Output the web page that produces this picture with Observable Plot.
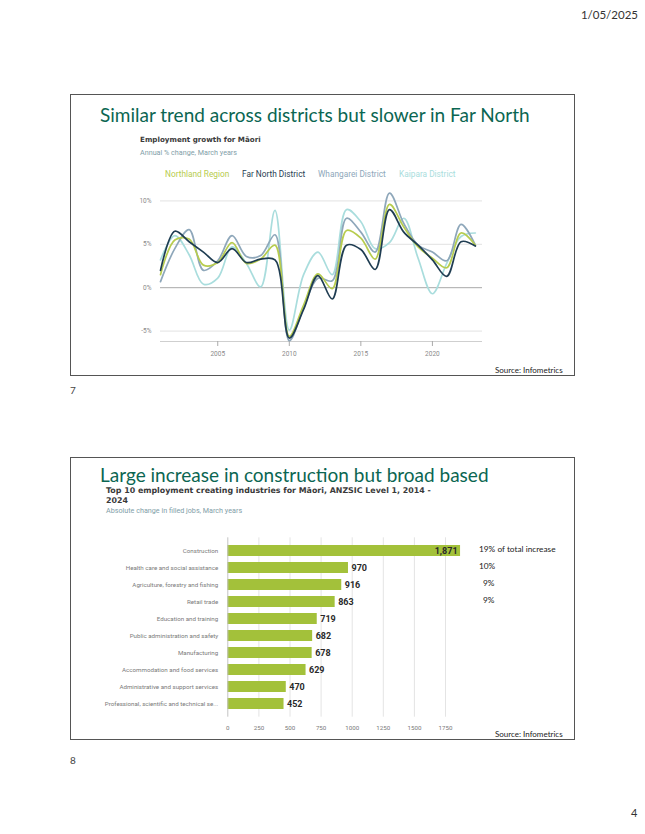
<!DOCTYPE html>
<html><head><meta charset="utf-8">
<script src="https://cdn.jsdelivr.net/npm/d3@7"></script>
<script src="https://cdn.jsdelivr.net/npm/@observablehq/plot@0.6"></script>
<style>
body{margin:0;background:#fff;}
#page{position:relative;width:645px;height:834px;overflow:hidden;background:#fff;font-family:Lato,"Noto Sans",sans-serif;}
.abs{position:absolute;white-space:nowrap;}
.frame{position:absolute;border:1px solid #555;box-sizing:border-box;}
.stitle{position:absolute;color:#0b6652;font-family:Lato,sans-serif;font-size:19px;white-space:nowrap;line-height:1;}
.ctitle{position:absolute;font-family:"DejaVu Sans",sans-serif;font-weight:bold;font-size:7.3px;color:#3a3a3a;white-space:nowrap;line-height:9.4px;}
.csub{position:absolute;font-family:Roboto,sans-serif;font-size:7.2px;color:#7f9ea8;white-space:nowrap;line-height:1;}
.src{position:absolute;font-family:Lato,sans-serif;font-size:8px;color:#222;white-space:nowrap;line-height:1;}
.plotbox{position:absolute;}
.plotbox svg{overflow:visible;}
</style></head>
<body><div id="page">
<div class="abs" style="right:7px;top:8px;font-size:11.5px;color:#333;">1/05/2025</div>

<div class="frame" style="left:70px;top:94px;width:505px;height:282px;"></div>
<div class="stitle" style="left:100px;top:104.5px;">Similar trend across districts but slower in Far North</div>
<div class="ctitle" style="left:140px;top:134.7px;font-size:7.15px;">Employment growth for Māori</div>
<div class="csub" style="left:140px;top:148.5px;">Annual % change, March years</div>
<div id="legend" class="abs" style="left:0;top:0;"></div>
<div id="line" class="plotbox" style="left:100px;top:185px;"></div>
<div class="src" style="left:495px;top:366px;">Source: Infometrics</div>
<div class="abs" style="left:70px;top:384px;font-size:10px;color:#444;">7</div>

<div class="frame" style="left:70px;top:457px;width:505px;height:283px;"></div>
<div class="stitle" style="left:100px;top:465.3px;">Large increase in construction but broad based</div>
<div class="ctitle" style="left:106px;top:486.3px;font-size:7.9px;">Top 10 employment creating industries for Māori, ANZSIC Level 1, 2014 -<br>2024</div>
<div class="csub" style="left:106px;top:506.5px;">Absolute change in filled jobs, March years</div>
<div id="bar" class="plotbox" style="left:100px;top:530px;"></div>
<div id="notes"></div>
<div class="src" style="left:495px;top:730px;">Source: Infometrics</div>
<div class="abs" style="left:70px;top:754px;font-size:10px;color:#444;">8</div>
<div class="abs" style="left:631px;top:806px;font-size:11px;color:#333;">4</div>
</div>
<script>
// ---- Line chart data ----
const years = [2001,2002,2003,2004,2005,2006,2007,2008,2009,2010,2011,2012,2013,2014,2015,2016,2017,2018,2019,2020,2021,2022,2023];
const seriesNames = ["Northland Region","Far North District","Whangarei District","Kaipara District"];
const seriesColors = ["#b7cc4e","#1f3d52","#8ea7ba","#a9dddd"];
const northland = [1.5,5.5,5.6,2.6,2.9,5.2,2.8,3.3,4.9,-5.6,-2.0,1.6,-0.1,6.6,5.7,3.3,9.6,7.0,4.7,3.4,2.3,6.3,4.9];
const farNorth  = [2.0,6.5,5.3,4.1,2.9,4.5,2.9,3.3,3.2,-5.8,-2.5,1.4,-1.3,4.9,4.4,2.1,9.0,6.4,4.9,3.2,1.3,5.3,4.8];
const whangarei = [0.7,4.5,6.7,2.0,3.1,6.0,3.6,3.7,6.1,-6.1,-2.3,1.1,0.8,8.0,6.4,4.1,10.9,7.4,4.9,4.1,3.1,7.3,4.9];
const kaipara   = [3.2,6.0,3.8,0.4,1.1,4.7,2.8,0.1,8.9,-4.9,1.5,4.1,1.5,9.0,7.6,4.5,5.2,8.0,3.4,-0.7,2.8,5.9,6.3];
const yTicks = [-5,0,5,10];
const xTicks = [2005,2010,2015,2020];

// ---- Bar chart data ----
const industries = ["Construction","Health care and social assistance","Agriculture, forestry and fishing","Retail trade","Education and training","Public administration and safety","Manufacturing","Accommodation and food services","Administrative and support services","Professional, scientific and technical se..."];
const jobChange = [1871,970,916,863,719,682,678,629,470,452];
const barTicks = [0,250,500,750,1000,1250,1500,1750];
const shareNotes = ["19% of total increase","10%","9%","9%"];

// legend
const legendX = [165,242,318,399];
document.getElementById("legend").innerHTML = seriesNames.map((n,i)=>
  `<div class="abs" style="left:${legendX[i]}px;top:170px;font-family:Roboto,sans-serif;font-size:8.3px;color:${seriesColors[i]};line-height:1;">${n}</div>`).join("");

// line chart
const seriesVals = [northland, farNorth, whangarei, kaipara];
const drawOrder = [3,2,0,1];
const lineData = [];
for (const si of drawOrder) years.forEach((y,i)=>lineData.push({year:y, value:seriesVals[si][i], series:seriesNames[si]}));

const line = Plot.plot({
  width:400, height:180, marginLeft:60, marginRight:18, marginTop:5, marginBottom:24,
  style:{fontFamily:"Roboto,sans-serif", fontSize:"6.5px", color:"#8a8a8a", background:"transparent"},
  x:{domain:[2001,2023.5], label:null},
  y:{domain:[-6.2,11.2], label:null},
  color:{domain:seriesNames, range:seriesColors},
  marks:[
    Plot.ruleY(yTicks.filter(d=>d!==0), {stroke:"#e2e2e2", strokeWidth:1}),
    Plot.ruleY([0], {stroke:"#a8a8a8", strokeWidth:1}),
    Plot.ruleY([-6.2], {stroke:"#cfcfcf", strokeWidth:1}),
    Plot.axisY({ticks:yTicks, tickFormat:d=>d+"%", tickSize:0, tickPadding:9, label:null}),
    Plot.axisX({ticks:xTicks, tickFormat:d=>String(d), tickSize:5, tickPadding:5, stroke:"#aaa", label:null}),
    Plot.line(lineData, {x:"year", y:"value", z:"series", stroke:"series", curve:"catmull-rom", strokeWidth:1.7})
  ]
});
document.getElementById("line").appendChild(line);

// bar chart
const barData = industries.map((d,i)=>({industry:d, value:jobChange[i]}));
const fmt = d3.format(",");
const bar = Plot.plot({
  width:380, height:207, marginLeft:127.3, marginRight:3.9, marginTop:7.3, marginBottom:20.3,
  style:{fontFamily:"Roboto,sans-serif", fontSize:"6.2px", color:"#7a7a7a", background:"transparent"},
  x:{domain:[0,2000], label:null},
  y:{domain:industries, padding:0.35, label:null},
  marks:[
    Plot.ruleX(barTicks.filter(d=>d>0), {stroke:"#e4e4e4", strokeWidth:1}),
    Plot.barX(barData, {x:"value", y:"industry", fill:"#a3c13a"}),
    Plot.ruleX([0], {stroke:"#c4c4c4", strokeWidth:1}),
    Plot.axisX({ticks:barTicks, tickFormat:d=>String(d), tickSize:0, tickPadding:8, label:null}),
    Plot.axisY({tickSize:0, tickPadding:9.6, label:null}),
    Plot.text(barData.filter(d=>d.value>=1500), {x:"value", y:"industry", text:d=>fmt(d.value), textAnchor:"end", dx:-3, fill:"#2a2a2a", fontWeight:"bold", fontSize:9}),
    Plot.text(barData.filter(d=>d.value<1500), {x:"value", y:"industry", text:d=>fmt(d.value), textAnchor:"start", dx:3, fill:"#2a2a2a", fontWeight:"bold", fontSize:9})
  ]
});
document.getElementById("bar").appendChild(bar);

// share notes
const noteX = [479,479,483,483];
const noteY = [545,562,579,596];
document.getElementById("notes").innerHTML = shareNotes.map((t,i)=>
  `<div class="abs" style="left:${noteX[i]}px;top:${noteY[i]}px;font-family:Lato,sans-serif;font-size:8.3px;color:#222;line-height:1;">${t}</div>`).join("");
</script>
</body></html>
